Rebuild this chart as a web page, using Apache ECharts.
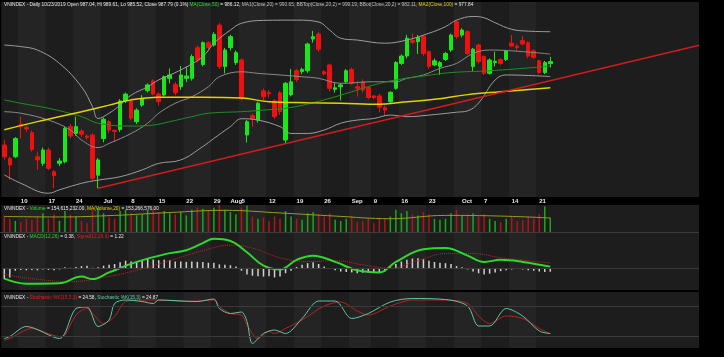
<!DOCTYPE html>
<html><head><meta charset="utf-8">
<script src="https://cdn.jsdelivr.net/npm/echarts@6/dist/echarts.min.js"></script>
<style>html,body{margin:0;padding:0;background:#000;}#c{width:724px;height:357px;}</style>
</head><body><div id="c"></div><script>
// ---------- data ----------
const firstDay = '2019-06-05', lastDay = '2019-10-23';
const holidays = ['2019-09-02'];
const futureSlots = 27;
const open  = [956.0,950.9,951.5,963.9,962.7,960.7,951.5,949.0,954.1,945.8,949.0,949.6,963.0,960.4,961.3,959.4,959.8,944.5,958.5,964.9,961.6,961.9,972.8,972.8,964.9,971.2,976.7,980.4,975.4,975.1,981.4,979.1,978.2,981.4,981.4,993.1,986.7,995.0,994.1,1001.7,985.9,993.1,987.4,988.4,959.8,967.2,965.5,976.6,976.0,972.8,975.9,957.9,975.1,984.3,984.0,984.3,996.4,998.3,983.9,986.5,977.2,978.2,980.1,984.8,978.2,980.1,977.9,974.7,974.7,970.2,972.5,977.6,987.1,989.9,995.8,995.4,997.5,991.6,986.5,985.9,988.6,992.2,1003.0,997.9,999.2,985.9,994.1,989.7,983.3,987.4,988.6,988.6,994.8,993.7,995.8,995.0,991.9,988.1,983.6,987.04];
const close = [951.5,948.4,958.5,963.0,962.1,954.3,950.3,954.1,947.1,944.3,949.9,962.3,959.4,963.0,960.1,958.9,943.3,950.3,965.8,961.7,961.2,972.8,975.4,966.2,969.3,973.8,978.9,975.4,972.5,982.0,982.7,975.9,982.7,982.3,989.7,988.4,995.0,993.2,998.2,985.9,992.2,997.3,991.2,973.8,964.9,965.9,971.9,974.4,975.5,966.8,968.7,979.5,980.1,981.0,984.8,994.5,997.3,992.5,983.1,977.6,977.8,978.9,984.3,979.5,977.6,977.0,974.1,974.1,970.4,969.3,976.1,987.4,989.9,996.7,995.1,997.0,990.9,985.9,988.1,987.4,990.9,997.9,997.3,999.8,990.9,992.5,987.8,983.3,988.4,987.9,987.1,991.8,993.7,993.2,994.5,989.9,989.4,983.6,987.4,987.79];
const low   = [950.5,942.7,951.0,958.5,961.0,953.5,946.5,948.0,946.5,939.5,948.0,949.0,958.5,959.5,959.0,958.0,942.5,939.5,957.0,960.5,957.2,961.0,972.0,965.5,964.0,970.5,976.0,975.0,971.0,974.5,979.5,975.0,977.0,980.0,980.5,987.5,986.0,992.0,993.5,985.0,983.3,992.0,986.5,973.0,957.0,963.0,964.5,973.0,974.0,966.0,967.5,956.6,974.5,980.0,983.0,983.5,995.0,991.5,982.5,976.5,976.0,973.0,979.5,979.0,974.5,976.0,973.5,973.5,968.5,967.0,972.0,977.0,986.5,989.0,994.5,990.7,990.0,985.0,986.0,982.7,988.0,991.5,996.5,997.0,990.3,984.0,987.0,982.7,982.8,985.9,986.5,988.0,993.5,992.0,994.0,989.0,988.8,983.0,983.0,985.52];
const high  = [958.0,951.5,959.0,966.8,963.5,961.5,953.4,955.0,955.0,946.5,951.0,963.0,964.0,966.8,962.0,960.0,960.5,951.0,966.5,965.5,961.8,973.5,976.0,973.5,970.0,975.0,979.5,981.0,976.0,982.5,985.2,980.0,986.1,985.9,990.5,994.0,995.5,995.5,999.0,1002.5,993.0,998.0,992.0,989.0,965.5,968.0,972.5,977.5,977.0,973.5,976.5,980.0,985.0,985.0,985.5,995.0,999.5,999.0,984.5,987.0,980.0,979.5,985.0,985.5,980.5,981.0,978.5,975.0,975.5,971.0,976.5,988.0,990.5,998.0,998.5,998.0,998.0,992.0,989.0,988.0,991.5,998.5,1003.6,1000.5,999.8,993.0,994.6,990.2,989.0,991.6,989.0,992.3,997.9,994.5,997.5,995.5,992.5,988.5,988.0,989.61];
// volume, millions of shares (estimated)
const volume = [165,150,140,135,150,145,160,175,150,170,140,185,170,160,140,130,190,200,175,155,150,185,190,175,165,170,190,195,180,185,175,170,180,165,190,200,195,185,200,215,190,180,170,200,210,160,150,155,140,160,150,185,160,150,145,175,180,170,160,175,145,140,150,160,135,140,150,130,155,150,160,190,175,185,170,165,180,170,150,145,150,175,190,165,170,175,160,170,150,140,135,150,160,140,145,160,150,170,205,154.6];
const volumeMA = [[0,160],[10,158],[20,165],[30,178],[40,188],[50,176],[60,162],[70,150],[80,165],[90,162],[99,153.3]];
// overlays: [candle index, value]
const bbUpper = [[0,994.1],[3,993.5],[6,992.2],[10,987.1],[14,978.2],[16,970.6],[17,966.1],[19,968.1],[21,971.2],[23,975.0],[26,978.2],[28,980.8],[32,984.6],[36,989.7],[38,994.8],[41,999.8],[43,1002.4],[47,1003.5],[53,1003.6],[57,1002.9],[59,999.8],[61,996.7],[64,996.0],[69,994.8],[73,996.0],[77,998.6],[80,1001.1],[82,1003.6],[85,1005.0],[87,1004.5],[89,1002.6],[92,1000.1],[95,999.4],[99,999.19]];
const bbMid = [[0,968.7],[3,968.1],[8,965.5],[12,961.7],[14,957.9],[17,955.0],[19,956.6],[23,960.4],[26,964.3],[28,968.1],[31,971.9],[34,974.4],[37,978.2],[39,982.0],[43,983.9],[46,983.3],[50,982.7],[54,982.0],[57,981.4],[61,979.5],[67,980.1],[71,980.1],[73,981.4],[76,982.7],[79,985.2],[82,987.1],[85,990.9],[88,992.2],[94,991.6],[99,990.65]];
const bbLower = [[0,944.6],[3,941.4],[8,937.6],[10,938.9],[14,941.4],[17,942.6],[21,943.9],[25,946.5],[28,949.0],[32,950.3],[36,955.4],[38,958.5],[41,963.0],[43,966.0],[46,965.5],[50,963.0],[52,960.4],[55,960.4],[58,961.7],[61,964.3],[64,965.5],[67,966.1],[70,967.4],[73,966.8],[77,967.4],[82,968.5],[84,969.0],[86,972.0],[89,980.8],[91,982.7],[95,982.5],[99,982.11]];
const ma50 = [[0,973.2],[3,971.9],[8,970.0],[14,966.8],[17,964.3],[23,963.2],[27,963.6],[30,964.9],[34,966.8],[37,968.1],[43,968.7],[47,969.3],[52,970.3],[58,973.2],[63,976.3],[67,978.9],[71,980.8],[76,982.3],[81,983.6],[88,984.3],[94,985.2],[99,986.11]];
const ma100 = [[0,961.8],[6,964.9],[14,968.7],[19,971.2],[23,973.2],[28,974.2],[36,974.2],[43,973.9],[48,972.5],[55,972.1],[61,971.9],[68,971.5],[72,972.3],[78,973.4],[84,975.2],[90,976.3],[99,977.84]];
const trendLine = [[17,939.5],[126,994.0]];
const macdLine = [[0,-2.5],[4,-3.7],[10,-3.6],[14,-2.0],[16,-2.6],[19,-1.0],[24,1.5],[29,3.3],[33,4.3],[36,6.0],[38,7.0],[41,6.5],[44,3.8],[47,0.6],[50,-0.3],[53,2.0],[56,3.0],[60,1.5],[64,-0.5],[68,-1.0],[71,1.5],[76,4.5],[80,4.8],[84,3.0],[87,1.5],[90,2.0],[94,1.5],[99,0.38]];
const signalLine = [[0,-1.5],[5,-2.5],[12,-3.2],[18,-2.2],[24,-0.5],[30,1.8],[36,4.2],[41,5.5],[45,4.8],[50,2.5],[55,1.6],[60,1.8],[65,0.8],[70,0.0],[75,1.8],[80,3.5],[85,3.5],[90,2.5],[95,1.8],[99,1.22]];
const macdHist = [-2.6,-2.2,-0.6,-0.4,-0.5,-0.4,-0.5,-0.3,-0.4,-0.5,-0.3,0.2,0.1,0.3,0.5,0.6,0.1,0.2,0.6,0.8,1.0,1.4,1.8,1.6,1.7,1.9,2.2,2.1,1.9,2.0,1.9,1.6,1.6,1.5,1.6,1.5,1.5,1.3,1.3,0.9,0.8,0.7,0.4,-0.6,-1.5,-1.8,-1.9,-2.0,-1.9,-2.2,-2.0,-1.2,-0.6,0.3,0.8,1.2,1.4,1.0,0.4,-0.2,-0.5,-0.8,-0.9,-1.0,-1.2,-1.1,-1.0,-1.1,-1.0,-0.8,0.2,1.0,1.6,2.0,2.3,2.4,2.2,1.8,1.5,1.3,1.2,1.0,0.5,0.2,-0.3,-0.8,-1.2,-1.5,-1.3,-1.0,-0.7,-0.5,-0.3,-0.2,-0.3,-0.5,-0.6,-0.8,-0.9,-0.84];
const stochSlow = [[0,12],[1,15],[5,35],[10,19],[11,22],[13,62],[15,75],[16,65],[18,45],[20,59],[22,89],[25,92],[28,92],[33,89],[38,92],[39,79],[41,65],[43,62],[44,42],[46,15],[48,29],[49,25],[51,35],[54,52],[58,80],[61,88],[64,70],[66,62],[70,80],[74,92],[80,92],[84,85],[86,60],[88,45],[91,60],[94,55],[97,35],[99,24.58]];
const stochFast = [[0,15],[1,19],[4,39],[10,15],[13,75],[15,78],[17,39],[19,52],[20,85],[22,92],[25,89],[27,85],[28,92],[35,89],[38,94],[39,75],[41,65],[43,68],[44,49],[45,5],[47,25],[49,32],[51,25],[54,55],[57,90],[60,90],[63,55],[66,65],[70,88],[74,95],[80,93],[84,80],[86,40],[88,40],[91,75],[94,60],[97,30],[99,24.87]];
const monthNames = ['Jan','Feb','Mar','Apr','May','Jun','Jul','Aug','Sep','Oct','Nov','Dec'];

// ---------- categories ----------
function fmt(d){return d.toISOString().slice(0,10);}
const days = [];
{let d = new Date(firstDay+'T00:00:00Z'); const end = new Date(lastDay+'T00:00:00Z');
 while (d <= end){const w=d.getUTCDay(); if(w!==0&&w!==6&&holidays.indexOf(fmt(d))<0) days.push(fmt(d)); d=new Date(d.getTime()+86400000);} }
const nData = days.length;
const cats = days.slice();
{let d = new Date(lastDay+'T00:00:00Z'); while (cats.length < nData+futureSlots){d=new Date(d.getTime()+86400000); const w=d.getUTCDay(); if(w!==0&&w!==6) cats.push(fmt(d));}}
const mon = s => +s.slice(5,7);
function lbl(i){ if(i>=nData || i===0) return ''; const s=days[i]; const m=mon(s), dd=+s.slice(8,10);
  const prev = days[i-1]; if(mon(prev)!==m) return monthNames[m-1];
  const a=new Date(s+'T00:00:00Z'), b=new Date(prev+'T00:00:00Z');
  if (a.getUTCDay()<b.getUTCDay()){ if(i+1<nData && mon(days[i+1])!==m) return ''; return String(dd); }
  return ''; }
function weekStart(i){ if(i===0) return false; const a=new Date(cats[i]+'T00:00:00Z'), b=new Date(cats[i-1]+'T00:00:00Z'); return a.getUTCDay()<b.getUTCDay(); }

const candles = open.map((o,i)=>[o, close[i], low[i], high[i]]);
const volBars = volume.map((v,i)=>({value:v, itemStyle:{color: close[i]>=open[i] ? '#1aa81a' : '#b41414'}}));

// ---------- layout ----------
const L = 1.54, R = 724-701.94;
const grids = [{top:2,height:195},{top:205,height:27},{top:233,height:57},{top:292,height:56}];
const bandColors = ['#1d1d1d','#242424'];
function xa(g, showLabel){ return {type:'category', gridIndex:g, data:cats, boundaryGap:true,
  axisLine:{show:false}, axisTick:{show:false},
  axisLabel:{show:showLabel, interval:0, formatter:(v,i)=>lbl(i), color:'#e8e8e8', fontSize:6, fontWeight:'bold', fontFamily:'Liberation Sans', align:'left', margin:1.5},
  splitLine:{show:false},
  splitArea:{show:true, interval:(i)=>weekStart(i)&&i<nData, areaStyle:{color:bandColors}} }; }
const option = {
  backgroundColor:'#000', animation:false,
  grid: grids.map(g=>({left:L,right:R,top:g.top,height:g.height,backgroundColor:'#1f1f1f',show:true,borderWidth:0})),
  xAxis:[xa(0,true),xa(1,false),xa(2,false),xa(3,false)],
  yAxis:[
    {gridIndex:0,min:936.17,max:1010.51,show:false,splitLine:{show:false}},
    {gridIndex:1,min:90,max:212,show:false,splitLine:{show:false}},
    {gridIndex:2,min:-5.2,max:8.4,show:false,splitLine:{show:false}},
    {gridIndex:3,min:-4,max:108,show:false,splitLine:{show:false}}
  ],
  series:[
    {type:'line',xAxisIndex:0,yAxisIndex:0,data:bbUpper,smooth:0.4,symbol:'none',lineStyle:{color:'#9c9c9c',width:1}},
    {type:'line',xAxisIndex:0,yAxisIndex:0,data:bbLower,smooth:0.4,symbol:'none',lineStyle:{color:'#9c9c9c',width:1}},
    {type:'line',xAxisIndex:0,yAxisIndex:0,data:bbMid,smooth:0.4,symbol:'none',lineStyle:{color:'#8a8a8a',width:1}},
    {type:'line',xAxisIndex:0,yAxisIndex:0,data:ma50,smooth:0.4,symbol:'none',lineStyle:{color:'#1f8f1f',width:1}},
    {type:'line',xAxisIndex:0,yAxisIndex:0,data:ma100,smooth:0.4,symbol:'none',lineStyle:{color:'#e0d400',width:1.5}},
    {type:'line',xAxisIndex:0,yAxisIndex:0,data:trendLine,symbol:'none',lineStyle:{color:'#d01c1c',width:1.5}},
    {type:'candlestick',xAxisIndex:0,yAxisIndex:0,data:candles,barWidth:4,
      itemStyle:{color:'#18e818',color0:'#f01010',borderColor:'#18e818',borderColor0:'#f01010',borderWidth:1}},
    {type:'bar',xAxisIndex:1,yAxisIndex:1,data:volBars,barWidth:1.5},
    {type:'line',xAxisIndex:1,yAxisIndex:1,data:volumeMA,smooth:0.4,symbol:'none',lineStyle:{color:'#9a9a20',width:1}},
    {type:'bar',xAxisIndex:2,yAxisIndex:2,data:macdHist,barWidth:1.5,itemStyle:{color:'#d0d0d0'}},
    {type:'line',xAxisIndex:2,yAxisIndex:2,data:signalLine,smooth:0.4,symbol:'none',lineStyle:{color:'#c82020',width:1,type:'dotted'},
      markLine:{silent:true,symbol:'none',label:{show:false},data:[{yAxis:0}],lineStyle:{color:'#3a3a3a',width:1,type:'solid'}}},
    {type:'line',xAxisIndex:2,yAxisIndex:2,data:macdLine,smooth:0.4,symbol:'none',lineStyle:{color:'#2ed82e',width:2}},
    {type:'line',xAxisIndex:3,yAxisIndex:3,data:stochSlow,smooth:0.3,symbol:'none',lineStyle:{color:'#b82222',width:1},
      markLine:{silent:true,symbol:'none',label:{show:false},data:[{yAxis:80},{yAxis:20}],lineStyle:{color:'#3a3a3a',width:1,type:'solid'}}},
    {type:'line',xAxisIndex:3,yAxisIndex:3,data:stochFast,smooth:0.3,symbol:'none',lineStyle:{color:'#62c6a6',width:1}}
  ]
};
// header texts
const F = 'Liberation Sans', FS = 4.8;
function hdr(y, parts){ return {type:'text', left:4, top:y, z:100, style:{text:parts.map(p=>'{'+p[0]+'|'+p[1]+'}').join(''), rich:{
  w:{fill:'#e6e6e6',fontSize:FS,fontFamily:F}, g:{fill:'#2ed82e',fontSize:FS,fontFamily:F}, y:{fill:'#e0d400',fontSize:FS,fontFamily:F},
  r:{fill:'#e02020',fontSize:FS,fontFamily:F}, t:{fill:'#62c6a6',fontSize:FS,fontFamily:F}, s:{fill:'#bdbdbd',fontSize:FS,fontFamily:F}}}}; }
function tag(y, text, bg, fg){ return {type:'group', left:701, top:y-3, z:100, children:[
  {type:'rect', shape:{x:0,y:0,width:21,height:6}, style:{fill:bg}},
  {type:'text', style:{x:1,y:0.8,text:text,fill:fg,fontSize:4.6,fontFamily:F}}]}; }
option.graphic = [
  {type:'rect', left:699, top:0, z:90, shape:{width:25,height:357}, style:{fill:'#000'}, silent:true},
  {type:'rect', left:0, top:232, z:90, shape:{width:699,height:1}, style:{fill:'#3c3c3c'}},
  {type:'rect', left:0, top:290.5, z:90, shape:{width:699,height:1.5}, style:{fill:'#000'}},
  hdr(2.6, [['w','VNINDEX - Daily 10/23/2019 Open 987.04, Hi 989.61, Lo 985.52, Close 987.79 (0.1%) '],['g','MA(Close,50)'],['w',' = 986.12, '],['s','MA1(Close,20) = 990.65, BBTop(Close,20,2) = 999.19, BBot(Close,20,2) = 982.11, '],['y','MA2(Close,100)'],['w',' = 977.84']]),
  hdr(206, [['w','VNINDEX - '],['g','Volume'],['w',' = 154,615,232.00, '],['y','MA(Volume,20)'],['w',' = 153,266,576.00']]),
  hdr(234, [['w','VNINDEX - '],['g','MACD(12,26)'],['w',' = 0.38, '],['r','Signal(12,26,9)'],['w',' = 1.22']]),
  hdr(295, [['w','VNINDEX - '],['r','Stochastic %K(15,3,3)'],['w',' = 24.58, '],['t','Stochastic %K(15,3)'],['w',' = 24.87']]),
  tag(31.7,'999.188','#bdbdbd','#333'),
  tag(54,'990.646','#bdbdbd','#333'),
  tag(61,'987.79','#333','#eee'),
  tag(67,'986.111','#1fcf1f','#053'),
  tag(76.3,'982.109','#bdbdbd','#333'),
  tag(87.7,'977.836','#e8e000','#333'),
  tag(217.3,'154.615','#1fcf1f','#053'),
  tag(223.3,'153.266','#e8e000','#333'),
  tag(260.7,'1.2244','#e01010','#fff'),
  tag(266.7,'0.3846','#1fcf1f','#053'),
  tag(330,'24.8741','#1fcf1f','#053'),
  tag(336,'24.58','#c01a1a','#fff')
];
const chart = echarts.init(document.getElementById('c'), null, {renderer:'canvas'});
chart.setOption(option);
</script></body></html>
